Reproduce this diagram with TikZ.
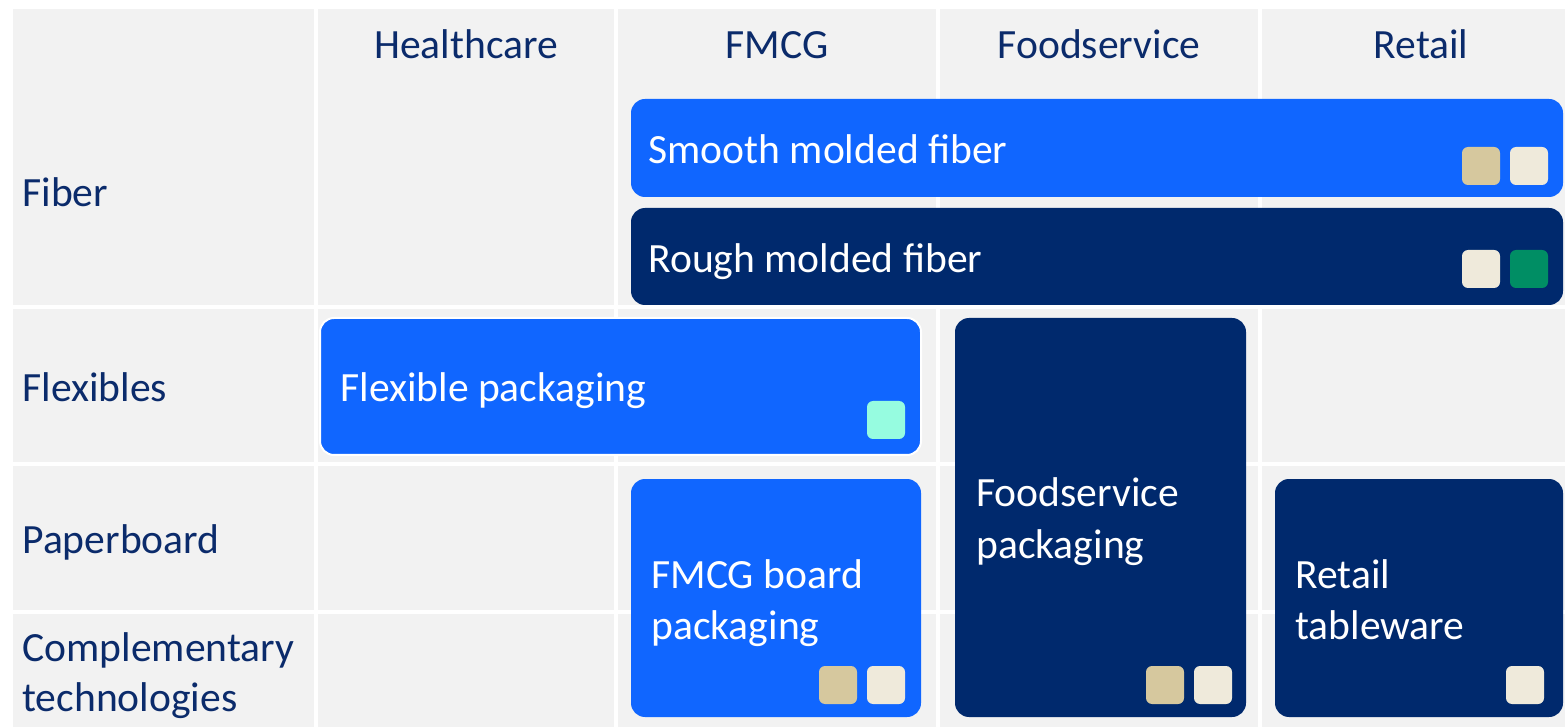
\documentclass[tikz,border=0pt]{standalone}
\usepackage{fontspec}
\setmainfont{Carlito}
\definecolor{cellgray}{HTML}{F2F2F2}
\definecolor{brightblue}{HTML}{1066FF}
\definecolor{navy}{HTML}{00296D}
\definecolor{labelnavy}{HTML}{0B2B6B}
\definecolor{tan}{HTML}{D6C89E}
\definecolor{cream}{HTML}{EFEADB}
\definecolor{leaf}{HTML}{008E64}
\definecolor{mint}{HTML}{96FCE0}
\tikzset{
  cell/.style={fill=cellgray, draw=none},
  lightbox/.style={fill=brightblue, draw=none, rounded corners=7pt},
  darkbox/.style={fill=navy, draw=none, rounded corners=7pt},
  chip/.style={draw=none, rounded corners=3pt},
  hdr/.style={text=labelnavy, font=\fontsize{20.8}{25}\selectfont, inner sep=0pt},
  boxtext/.style={text=white, font=\fontsize{20.8}{25}\selectfont, inner sep=0pt, anchor=base west},
}
\begin{document}
\begin{tikzpicture}[x=0.5pt, y=-0.5pt]
\useasboundingbox (0,0) rectangle (1565,727);
\fill[white] (0,0) rectangle (1565,727);
% grid cells
\foreach \xa/\xb in {13/314, 318/614, 618/936, 940/1258, 1262/1565}{
  \foreach \ya/\yb in {9/305, 309/462, 466/610, 614/727}{
    \path[cell] (\xa,\ya) rectangle (\xb,\yb);
  }
}
% headers
\node[hdr, anchor=base] (hHealth) at (466,59) {Healthcare};
\node[hdr, anchor=base] (hFMCG) at (777,59) {FMCG};
\node[hdr, anchor=base] (hFood) at (1099,59) {Foodservice};
\node[hdr, anchor=base] (hRetail) at (1421,59) {Retail};
% row labels
\node[hdr, anchor=base west] (rFiber) at (22,207) {Fiber};
\node[hdr, anchor=base west] (rFlex) at (22,401) {Flexibles};
\node[hdr, anchor=base west] (rPaper) at (22,553) {Paperboard};
\node[hdr, anchor=base west] (rComp1) at (22,661) {Complementary};
\node[hdr, anchor=base west] (rComp2) at (22,711) {technologies};

% Smooth molded fiber
\path[lightbox] (631,99) rectangle (1563,197);
\node[boxtext] (tSmooth) at (648,164) {Smooth molded fiber};
\path[chip, fill=tan] (1462,147) rectangle (1500,185);
\path[chip, fill=cream] (1510,147) rectangle (1548,185);

% Rough molded fiber
\path[darkbox] (631,208) rectangle (1563,305);
\node[boxtext] (tRough) at (648,273) {Rough molded fiber};
\path[chip, fill=cream] (1462,250) rectangle (1500,288);
\path[chip, fill=leaf] (1510,250) rectangle (1548,288);

% Flexible packaging
\path[lightbox, draw=white, line width=1pt] (320,318) rectangle (921,455);
\node[boxtext] (tFlex) at (340,401) {Flexible packaging};
\path[chip, fill=mint] (867,401) rectangle (905,439);

% Foodservice packaging
\path[darkbox] (955,318) rectangle (1246,717);
\node[boxtext] (tFood1) at (976,507) {Foodservice};
\node[boxtext] (tFood2) at (976,558) {packaging};
\path[chip, fill=tan] (1146,666) rectangle (1184,704);
\path[chip, fill=cream] (1194,666) rectangle (1232,704);

% FMCG board packaging
\path[lightbox] (631,479) rectangle (921,717);
\node[boxtext] (tFMCG1) at (651,588) {FMCG board};
\node[boxtext] (tFMCG2) at (651,639) {packaging};
\path[chip, fill=tan] (819,666) rectangle (857,704);
\path[chip, fill=cream] (867,666) rectangle (905,704);

% Retail tableware
\path[darkbox] (1275,479) rectangle (1563,717);
\node[boxtext] (tRet1) at (1295,588) {Retail};
\node[boxtext] (tRet2) at (1295,639) {tableware};
\path[chip, fill=cream] (1506,666) rectangle (1544,704);
\end{tikzpicture}
\end{document}
